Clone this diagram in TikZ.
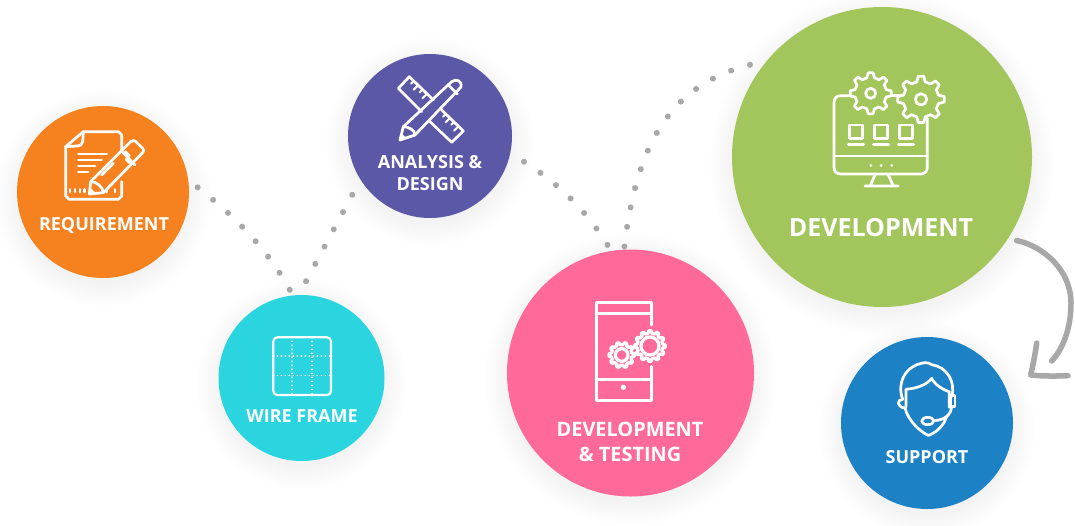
\documentclass[tikz,border=0pt]{standalone}
\usepackage{fontspec}
\setmainfont{Open Sans}
\usetikzlibrary{calc}
\definecolor{corange}{HTML}{F6821F}
\definecolor{cpurple}{HTML}{5C58A8}
\definecolor{ccyan}{HTML}{2AD5DF}
\definecolor{cpink}{HTML}{FF6A9B}
\definecolor{cgreen}{HTML}{A2C65B}
\definecolor{cblue}{HTML}{1C82C5}
\definecolor{cdot}{HTML}{A8A8A8}
\tikzset{
  stage/.style={circle,inner sep=0pt,outer sep=0pt,minimum size=#1},
  lbl/.style={text=white,font=\bfseries\fontsize{18}{22}\selectfont,align=center,inner sep=0pt},
  dots/.style={line width=6pt,line cap=round,color=cdot,dash pattern=on 0.01pt off 19.8pt},
  icon/.style={draw=white,line width=2.7pt,line cap=round,line join=round},
  swoop/.style={draw=cdot,line width=5.5pt,line cap=round,line join=round},
  griddots/.style={draw=white,line width=1.9pt,line cap=round,dash pattern=on 0.01pt off 4pt},
}
\newcommand\geargl[8]{%
  \begin{scope}[shift={(#1,#2)}]
    \pgfmathsetmacro\gs{360/#5}
    \draw[icon,line width=#8,fill=#7] ({.3*\gs}:#4)
      \foreach \i in {1,...,#5}{
        -- ({\i*\gs-.3*\gs}:#4) -- ({\i*\gs-.15*\gs}:#3) -- ({\i*\gs+.15*\gs}:#3) -- ({\i*\gs+.3*\gs}:#4)
      } -- cycle;
    \draw[icon,line width=#8] (0,0) circle (#6);
  \end{scope}}
\begin{document}
\begin{tikzpicture}[x=1pt,y=-1pt]
\useasboundingbox (0,0) rectangle (1075,525);
\fill[white] (0,0) rectangle (1075,525);
% soft shadows
\foreach \cx/\cy/\cr in {103/192/86,430/136/82,301.5/378/83,630.5/373/124,882/157/150,927/423/86}{
  \foreach \k in {0,2,...,22}{
    \fill[black,opacity=.005] (\cx,\cy+6) circle ({\cr+\k});
  }
}
% circles
\node[stage=172pt,fill=corange] (req) at (103,192) {};
\node[stage=164pt,fill=cpurple] (ana) at (430,136) {};
\node[stage=166pt,fill=ccyan] (wire) at (301.5,378) {};
\node[stage=247pt,fill=cpink] (test) at (630.5,373) {};
\node[stage=300pt,fill=cgreen] (dev) at (882,157) {};
\node[stage=172pt,fill=cblue] (sup) at (927,423) {};
% labels
\node[lbl] (treq) at (104,225) {REQUIREMENT};
\node[lbl] (tana) at (430,173.5) {ANALYSIS \&\\DESIGN};
\node[lbl] (twire) at (302,416) {WIRE FRAME};
\node[lbl,font=\bfseries\fontsize{19.9}{25}\selectfont] (ttest) at (630,441.5) {DEVELOPMENT\\\& TESTING};
\node[lbl,font=\bfseries\fontsize{25}{30}\selectfont] (tdev) at (881,228) {DEVELOPMENT};
\node[lbl] (tsup) at (927,457) {SUPPORT};
% dotted connectors
\draw[dots,shorten <=12pt,shorten >=6pt] (req.8) .. controls (234,215.5) and (267.8,249.4) .. (wire.96.6);
\draw[dots,dash pattern=on 0.01pt off 19.6pt,shorten <=15.7pt,shorten >=16pt] (wire.92.4) -- (ana.212.7);
\draw[dots,shorten <=16.3pt,shorten >=6.3pt] (ana.-12) .. controls (557.8,183.1) and (586.4,210.4) .. (test.99.8);
\draw[dots,shorten <=3.2pt,shorten >=16.2pt] (test.93.6) .. controls (637.4,137.5) and (674.4,83.5) .. (dev.140.8);
% grey arrow
\coordinate (tip) at (1030.7,375);
\coordinate (shaftend) at (1051.7,361);
\draw[swoop,shorten <=9pt] (dev.-33) .. controls (1043,246) and (1071,270) .. (1071,303) .. controls (1071,330) and (1062,350) .. (shaftend);
\draw[swoop] (1036.7,343) .. controls (1035,355) and (1033,365) .. (tip) .. controls (1045,376.5) and (1058,376) .. (1068,375.7);
% requirement icon
\begin{scope}[shift={(20,110)},scale=1/3]
  \draw[icon] (305,125) -- (305,75) -- (295,65) -- (190,65) -- (137,110) -- (137,258) -- (147,268) -- (295,268) -- (305,258) -- (305,215);
  \draw[icon] (190,68) -- (188,95) .. controls (187,104) and (180,108) .. (172,108) -- (137,110);
  \draw[icon] (175,132)--(260,132) (175,150)--(245,150) (175,168)--(225,168) (175,186)--(205,186);
  \draw[icon] (150,238)--(150,246) (165,238)--(165,246) (180,238)--(180,246) (193,238)--(193,246) (260,238)--(260,246) (285,238)--(285,246);
  \draw[icon,fill=corange] (208,252) -- (212,215) -- (332,95) .. controls (338,90) and (343,90) .. (348,95) -- (368,115) .. controls (372,120) and (372,124) .. (368,128) -- (250,248) -- cycle;
  \draw[icon] (303,122) -- (345,165) (316,125) -- (328,137) (318,148)--(328,158) (245,195) -- (280,160);
  \draw[icon] (212,215) .. controls (228,213) and (250,232) .. (250,248);
  \fill[white] (206,255) -- (210,232) -- (230,252) -- cycle;
\end{scope}
% analysis icon
\begin{scope}[shift={(350,55)},scale=1/3]
  \draw[icon] (215,170) -- (145,100) -- (178,65) -- (250,135);
  \draw[icon] (275,165) -- (340,228) -- (305,262) -- (240,200);
  \draw[icon,line width=2pt] (191,78)--(183,86) (204,91)--(191,104) (217,104)--(209,112) (230,117)--(217,130);
  \draw[icon,line width=2pt] (287,177)--(279,185) (300,189)--(287,202) (312,201)--(304,209) (325,214)--(312,227);
  \draw[icon] (150,255) -- (160,215) -- (305,80) .. controls (318,70) and (338,78) .. (333,96) -- (195,240) -- cycle;
  \draw[icon] (295,90) -- (322,117);
  \draw[icon] (160,215) .. controls (175,215) and (195,225) .. (195,240);
  \fill[white] (148,258) -- (153,235) -- (172,250) -- cycle;
\end{scope}
% wire frame icon
\begin{scope}[shift={(260,325)},scale=1/3]
  \draw[icon,line width=2.2pt,rounded corners=4pt] (40,37) rectangle (213,210);
  \foreach \p in {96,155}{
    \draw[griddots] (\p,37) -- (\p,210);
    \draw[griddots] (40,\p-3.5) -- (213,\p-3.5);
  }
\end{scope}
% monitor icon
\begin{scope}[shift={(810,50)},scale=1/3]
  \draw[icon] (125,137) -- (92,137) .. controls (80,137) and (72,145) .. (72,157) -- (72,352) .. controls (72,364) and (80,372) .. (92,372) -- (332,372) .. controls (344,372) and (352,364) .. (352,352) -- (352,205);
  \draw[icon] (240,137) -- (275,137);
  \draw[icon] (72,318) -- (352,318);
  \draw[icon] (182,346)--(183,346) (213,346)--(214,346) (245,346)--(246,346);
  \draw[icon] (195,375) -- (180,408) (235,375) -- (250,408) (165,408) -- (265,408);
  \foreach \q in {118,193,268}{
    \draw[icon] (\q,225) rectangle (\q+40,265);
    \draw[icon] (\q-3,283) -- (\q+43,283);
  }
  \geargl{182}{130}{62}{48}{8}{15}{cgreen}{2.7pt}
  \geargl{333}{148}{70}{54}{8}{17}{cgreen}{2.7pt}
\end{scope}
% phone icon
\begin{scope}[shift={(570,290)},scale=1/3]
  \draw[icon,line width=3pt] (243,105) -- (243,37) -- (78,37) -- (78,330) -- (243,330) -- (243,230);
  \draw[icon,line width=3pt] (78,70) -- (243,70) (78,267) -- (243,267);
  \fill[white] (160,292) circle (8);
  \geargl{155}{195}{38}{31}{10}{19}{cpink}{3.2pt}
  \geargl{240}{168}{46}{38}{12}{27}{cpink}{3.2pt}
\end{scope}
% headset icon
\begin{scope}[shift={(880,350)},scale=1/3]
  \draw[icon] (68,148) .. controls (50,100) and (75,45) .. (135,38) .. controls (145,36) and (148,42) .. (155,44) .. controls (200,50) and (228,95) .. (215,140);
  \draw[icon] (78,172) -- (78,118) .. controls (110,115) and (140,105) .. (155,85) .. controls (165,105) and (190,120) .. (208,125) -- (208,172);
  \draw[icon] (68,148) .. controls (50,148) and (50,172) .. (75,174);
  \draw[icon] (75,174) .. controls (85,215) and (125,248) .. (145,256) .. controls (165,250) and (190,230) .. (200,200);
  \draw[icon] (212,137) -- (225,137) -- (225,170) -- (212,170) -- cycle;
  \draw[icon] (215,170) .. controls (212,195) and (195,210) .. (162,212);
  \draw[icon] (143,213) ellipse (18 and 11);
\end{scope}
\end{tikzpicture}
\end{document}
